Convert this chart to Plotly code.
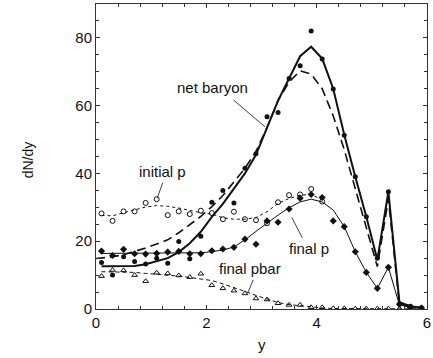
import plotly.graph_objects as go

# ---------------- data ----------------
y_pts = [0.1, 0.3, 0.5, 0.7, 0.9, 1.1, 1.3, 1.5, 1.7, 1.9, 2.1, 2.3, 2.5, 2.7, 2.9,
         3.1, 3.3, 3.5, 3.7, 3.9, 4.1, 4.3, 4.5, 4.7, 4.9, 5.1, 5.3, 5.5, 5.7, 5.9]

net_baryon_pts = [13.7, 10.0, 15.4, 14.0, 13.3, 15.0, 13.5, 19.9, 14.8, 21.5, 31.5, 35.0, 31.3, 41.5, 45.8,
                  56.7, 58.0, 68.0, 71.8, 82.0, 73.8, 64.9, 51.3, 39.0, 27.2, 15.0, 34.6, 1.5, 0.8, 0.4]

final_p_pts = [17.1, 15.8, 17.6, 16.3, 16.2, 16.4, 16.8, 17.0, 16.3, 16.3, 17.2, 17.7, 18.2, 20.6, 19.1,
               26.0, 25.6, 29.5, 32.7, 33.8, 32.9, 26.0, 24.3, 16.9, 10.8, 6.1, 12.3, 1.4, 0.5, 0.3]

initial_p_x = [0.1, 0.3, 0.5, 0.7, 0.9, 1.1, 1.3, 1.5, 1.7, 1.9, 2.1, 2.3, 2.5, 2.7, 2.9,
               3.1, 3.3, 3.5, 3.7, 3.9, 4.1]
initial_p_pts = [28.2, 26.0, 28.8, 28.8, 31.3, 32.4, 27.7, 28.8, 28.0, 29.0, 28.3, 26.5, 28.7, 26.5, 26.2,
                 25.3, 31.5, 33.6, 33.8, 35.4, 31.7]

pbar_pts = [9.7, 11.5, 11.4, 10.0, 8.2, 10.7, 10.5, 9.9, 9.4, 10.4, 7.0, 6.1, 5.4, 4.6, 3.1,
            2.8, 1.7, 1.2, 1.2, 0.5, 0.5, 0.2, 0.2, 0.1, 0.1, 0.1, 0.1, 0.1, 0.1, 0.1]

# model curves
curve_x = [0.1, 0.3, 0.5, 0.7, 0.9, 1.1, 1.3, 1.5, 1.7, 1.9, 2.1, 2.3, 2.5, 2.7, 2.9,
           3.1, 3.3, 3.5, 3.7, 3.9, 4.1, 4.3, 4.5, 4.7, 4.9, 5.1, 5.3, 5.5, 5.7, 5.9]

net_baryon_solid = [12.6, 12.6, 12.6, 12.7, 13.2, 14.0, 15.0, 16.8, 19.4, 22.8, 27.2, 31.0, 35.5, 40.0, 45.5,
                    53.5, 61.5, 68.0, 74.6, 77.4, 73.9, 65.0, 51.4, 39.0, 27.2, 14.5, 34.6, 2.0, 0.8, 0.4]

dashed_x = [0.0, 0.1, 0.3, 0.5, 0.7, 0.9, 1.1, 1.3, 1.5, 1.7, 1.9, 2.1, 2.3, 2.5, 2.7, 2.9,
            3.1, 3.3, 3.5, 3.7, 3.9, 4.1, 4.3, 4.5, 4.7, 4.9, 5.1, 5.3, 5.5, 5.7, 5.9]
net_baryon_dashed = [14.9, 15.0, 15.4, 16.0, 16.9, 18.0, 19.2, 20.4, 22.5, 24.8, 27.3, 30.2, 33.5, 37.5, 41.5, 46.5,
                     53.5, 61.5, 67.0, 70.3, 69.3, 65.0, 57.0, 47.0, 35.5, 24.0, 12.5, 32.5, 1.5, 0.6, 0.3]

final_p_curve = [16.4, 16.4, 16.4, 16.5, 16.5, 16.5, 16.5, 16.5, 16.5, 16.6, 16.9, 17.4, 18.3, 20.4, 22.9,
                 25.4, 27.7, 29.9, 31.6, 32.4, 31.6, 29.2, 24.3, 16.9, 10.8, 6.1, 12.3, 1.2, 0.5, 0.3]

initial_p_curve = [27.6, 27.5, 28.4, 29.3, 30.1, 30.5, 30.3, 29.8, 29.0, 28.4, 28.0, 26.9, 26.5, 26.5, 27.0,
                   28.7, 31.2, 32.6, 33.6, 33.8, 32.2]

pbar_curve = [11.0, 11.0, 11.0, 10.8, 10.5, 10.3, 10.0, 9.7, 9.3, 8.8, 8.4, 7.4, 6.4, 5.2, 4.0,
              2.9, 1.9, 1.3, 0.9, 0.5, 0.3, 0.15, 0.1, 0.05, 0.05, 0.05, 0.05, 0.05, 0.05, 0.05]

x_ticks = [0, 2, 4, 6]
y_ticks = [0, 20, 40, 60, 80]

# labels: text, (x, y) data position, leader line start/end
labels = ["net baryon", "initial p", "final p", "final pbar"]
label_pos = [(2.12, 65.5), (1.2, 40.5), (3.86, 17.8), (2.8, 12.0)]
leader_from = [(2.49, 61.7), (1.21, 37.3), (3.74, 21.0), (2.85, 8.6)]
leader_to = [(3.06, 53.8), (1.11, 32.7), (3.55, 27.0), (2.76, 5.1)]

INK = "#111111"
FONT = "Liberation Sans, Arial, Helvetica, sans-serif"

fig = go.Figure()

# curves
fig.add_trace(go.Scatter(x=curve_x[:len(initial_p_curve)], y=initial_p_curve, mode="lines",
                         line=dict(color=INK, width=1, dash="dot"), showlegend=False))
fig.add_trace(go.Scatter(x=curve_x, y=pbar_curve, mode="lines",
                         line=dict(color=INK, width=1, dash="4px,3px"), showlegend=False))
fig.add_trace(go.Scatter(x=curve_x, y=final_p_curve, mode="lines",
                         line=dict(color=INK, width=1), showlegend=False))
fig.add_trace(go.Scatter(x=dashed_x, y=net_baryon_dashed, mode="lines",
                         line=dict(color=INK, width=1.6, dash="9px,5px"), showlegend=False))
fig.add_trace(go.Scatter(x=curve_x, y=net_baryon_solid, mode="lines",
                         line=dict(color=INK, width=2), showlegend=False))

# points
fig.add_trace(go.Scatter(x=initial_p_x, y=initial_p_pts, mode="markers",
                         marker=dict(symbol="circle-open", size=5, color=INK, line=dict(width=1)),
                         showlegend=False))
fig.add_trace(go.Scatter(x=y_pts, y=pbar_pts, mode="markers",
                         marker=dict(symbol="triangle-up-open", size=5, color=INK, line=dict(width=1)),
                         showlegend=False))
fig.add_trace(go.Scatter(x=y_pts, y=final_p_pts, mode="markers",
                         marker=dict(symbol="diamond", size=5.5, color=INK),
                         showlegend=False))
fig.add_trace(go.Scatter(x=y_pts, y=net_baryon_pts, mode="markers",
                         marker=dict(symbol="circle", size=5, color=INK),
                         showlegend=False))

# labels and leader lines
for txt, (lx, ly), (fx, fy), (tx, ty) in zip(labels, label_pos, leader_from, leader_to):
    fig.add_annotation(x=lx, y=ly, xref="x", yref="y", text=txt, showarrow=False,
                       font=dict(family=FONT, size=15, color=INK))
    fig.add_shape(type="line", xref="x", yref="y", x0=fx, y0=fy, x1=tx, y1=ty,
                  line=dict(color=INK, width=0.8))

# axis titles
fig.add_annotation(x=-0.206, y=0.49, xref="paper", yref="paper", text="dN/dy", textangle=-90,
                   xanchor="center", yanchor="middle",
                   showarrow=False, font=dict(family=FONT, size=14, color=INK))
fig.add_annotation(x=0.5, y=-0.118, xref="paper", yref="paper", text="y",
                   xanchor="center", yanchor="middle",
                   showarrow=False, font=dict(family=FONT, size=15, color=INK))

axis_common = dict(showgrid=False, zeroline=False, showline=True, linecolor="#333333", linewidth=1,
                   mirror="ticks", ticks="inside", ticklen=4, tickwidth=1, tickcolor="#333333",
                   ticklabeloverflow="allow",
                   tickfont=dict(family=FONT, size=15, color=INK))

fig.update_xaxes(range=[0, 6], tickvals=x_ticks,
                 minor=dict(dtick=0.4, tick0=0, ticks="inside", ticklen=3, tickcolor="#333333"),
                 **axis_common)
fig.update_yaxes(range=[0, 90], tickvals=y_ticks,
                 minor=dict(dtick=5, tick0=0, ticks="inside", ticklen=3, tickcolor="#333333"),
                 **axis_common)

fig.update_layout(width=433, height=358, margin=dict(l=96, r=2, t=4, b=49),
                  paper_bgcolor="white", plot_bgcolor="white", showlegend=False)

fig.write_html("out.html")
